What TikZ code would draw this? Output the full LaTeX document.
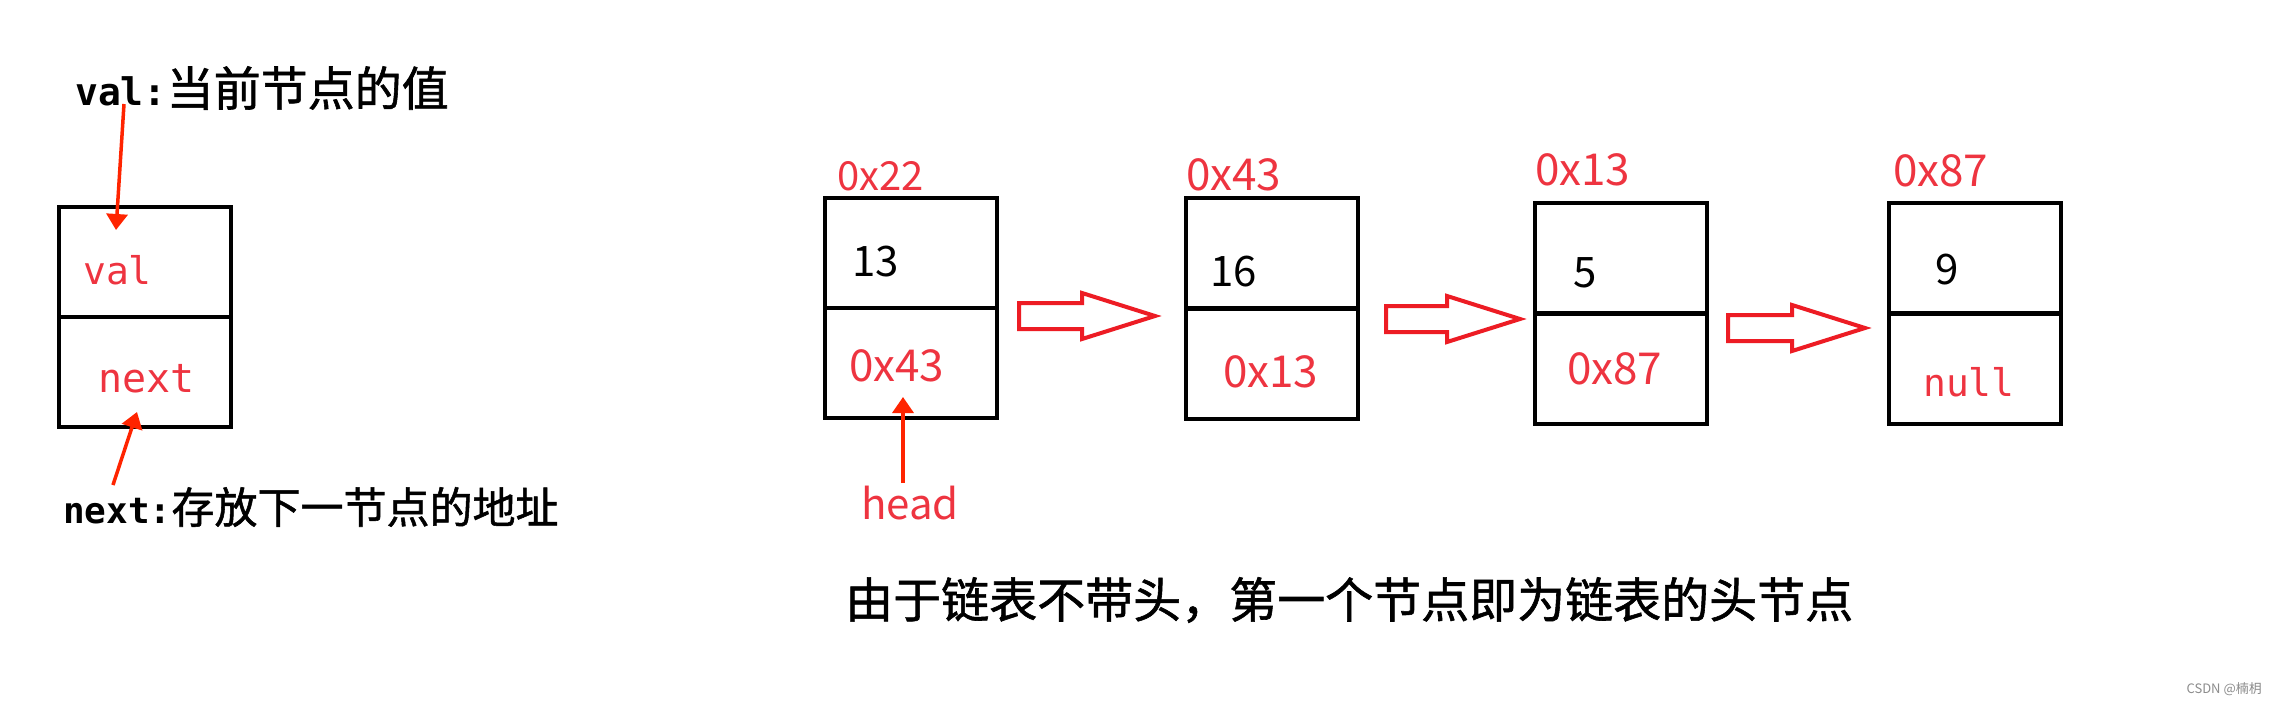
\documentclass[tikz,border=0pt]{standalone}
\usepackage{fontspec}
\usepackage{xcolor}
\usetikzlibrary{arrows.meta,positioning,shapes.arrows}
\setmainfont{Noto Sans CJK SC}
\newfontfamily\cjk{Noto Sans CJK SC}
\newfontfamily\cjkdark{Noto Sans CJK SC}[FakeBold=1.2]
\newfontfamily\mono{DejaVu Sans Mono}
\definecolor{lnkred}{RGB}{238,52,64}
\definecolor{arwred}{RGB}{237,28,36}
\definecolor{ptrred}{RGB}{255,36,0}

\begin{document}
\begin{tikzpicture}[x=1pt, y=-1pt,
    cell/.style={draw, line width=4pt, minimum width=172pt,
                 minimum height=110pt, inner sep=0pt},
    addr/.style={anchor=west, inner sep=0pt, text=lnkred,
                 font=\cjk\fontsize{44}{52}\selectfont},
    datum/.style={anchor=west, inner sep=0pt,
                  font=\cjk\fontsize{42}{50}\selectfont},
    field/.style={anchor=west, inner sep=0pt, text=lnkred,
                  font=\mono\fontsize{38}{46}\selectfont},
    note/.style={anchor=west, inner sep=0pt},
    ptr/.style={-{Triangle[length=16pt, width=21pt]}, line width=3.5pt, ptrred},
    hollow/.style={single arrow, draw=arwred, line width=4pt, inner xsep=0pt,
                   inner ysep=11pt, single arrow head extend=10pt,
                   single arrow tip angle=35, minimum height=136pt, anchor=tail},
  ]
  \path[fill=white, use as bounding box] (0,0) rectangle (2275,704);

  % --- legend: what one node holds ---
  \node[note] (valnote) at (75,88)
    {{\mono\bfseries\fontsize{38}{46}\selectfont val:}{\cjkdark\fontsize{47}{54}\selectfont 当前节点的值}};
  \node[cell] (lv) at (145,262) {};
  \node[cell] (ln) at (145,372) {};
  \node[field] (lvt) at (83,270) {val};
  \node[field, font=\mono\fontsize{40}{48}\selectfont] (lnt) at (98,379) {next};
  \node[note] (nextnote) at (63,507)
    {{\mono\bfseries\fontsize{36}{44}\selectfont next:}{\cjkdark\fontsize{43}{50}\selectfont 存放下一节点的地址}};
  \coordinate (vtail) at (124,104);
  \coordinate (vtip) at (116,230);
  \coordinate (ntail) at (113,485);
  \coordinate (ntip) at (137,412);
  \draw[ptr] (vtail) -- (vtip);
  \draw[ptr] (ntail) -- (ntip);

  % --- node 1: 0x22 (head) ---
  \node[addr, font=\cjk\fontsize{40}{48}\selectfont] (a1) at (837,176) {0x22};
  \node[cell] (v1) at (911,253) {};
  \node[cell] (n1) at (911,363) {};
  \node[datum] (d1) at (852,262) {13};
  \node[addr] (p1) at (849,366) {0x43};
  \node[addr, font=\cjk\fontsize{42}{50}\selectfont] (hd) at (861,503) {head};
  \coordinate (htail) at (903,483);
  \coordinate (htip) at (903,397);
  \draw[ptr] (htail) -- (htip);
  \node[hollow] (h1) at (1017,316) {};

  % --- node 2: 0x43 ---
  \node[addr] (a2) at (1186,175) {0x43};
  \node[cell] (v2) at (1272,253) {};
  \node[cell] (n2) at (1272,364) {};
  \node[datum] (d2) at (1210,272) {16};
  \node[addr] (p2) at (1223,372) {0x13};
  \node[hollow, minimum height=134pt] (h2) at (1384,319) {};

  % --- node 3: 0x13 ---
  \node[addr] (a3) at (1535,170) {0x13};
  \node[cell] (v3) at (1621,258) {};
  \node[cell] (n3) at (1621,369) {};
  \node[datum] (d3) at (1573,273) {5};
  \node[addr] (p3) at (1567,369) {0x87};
  \node[hollow, minimum height=137pt] (h3) at (1726,328) {};

  % --- node 4: 0x87 (tail) ---
  \node[addr] (a4) at (1893,171) {0x87};
  \node[cell] (v4) at (1975,258) {};
  \node[cell] (n4) at (1975,369) {};
  \node[datum] (d4) at (1935,270) {9};
  \node[field] (p4) at (1923,382) {null};

  % --- caption ---
  \node[note, font=\cjkdark\fontsize{48}{56}\selectfont] (cap) at (845,600)
    {由于链表不带头，第一个节点即为链表的头节点};
  \node[anchor=east, inner sep=0pt, text=black!45,
        font=\cjk\fontsize{13}{15}\selectfont] (wm) at (2262,689) {CSDN @楠枂};
\end{tikzpicture}
\end{document}
